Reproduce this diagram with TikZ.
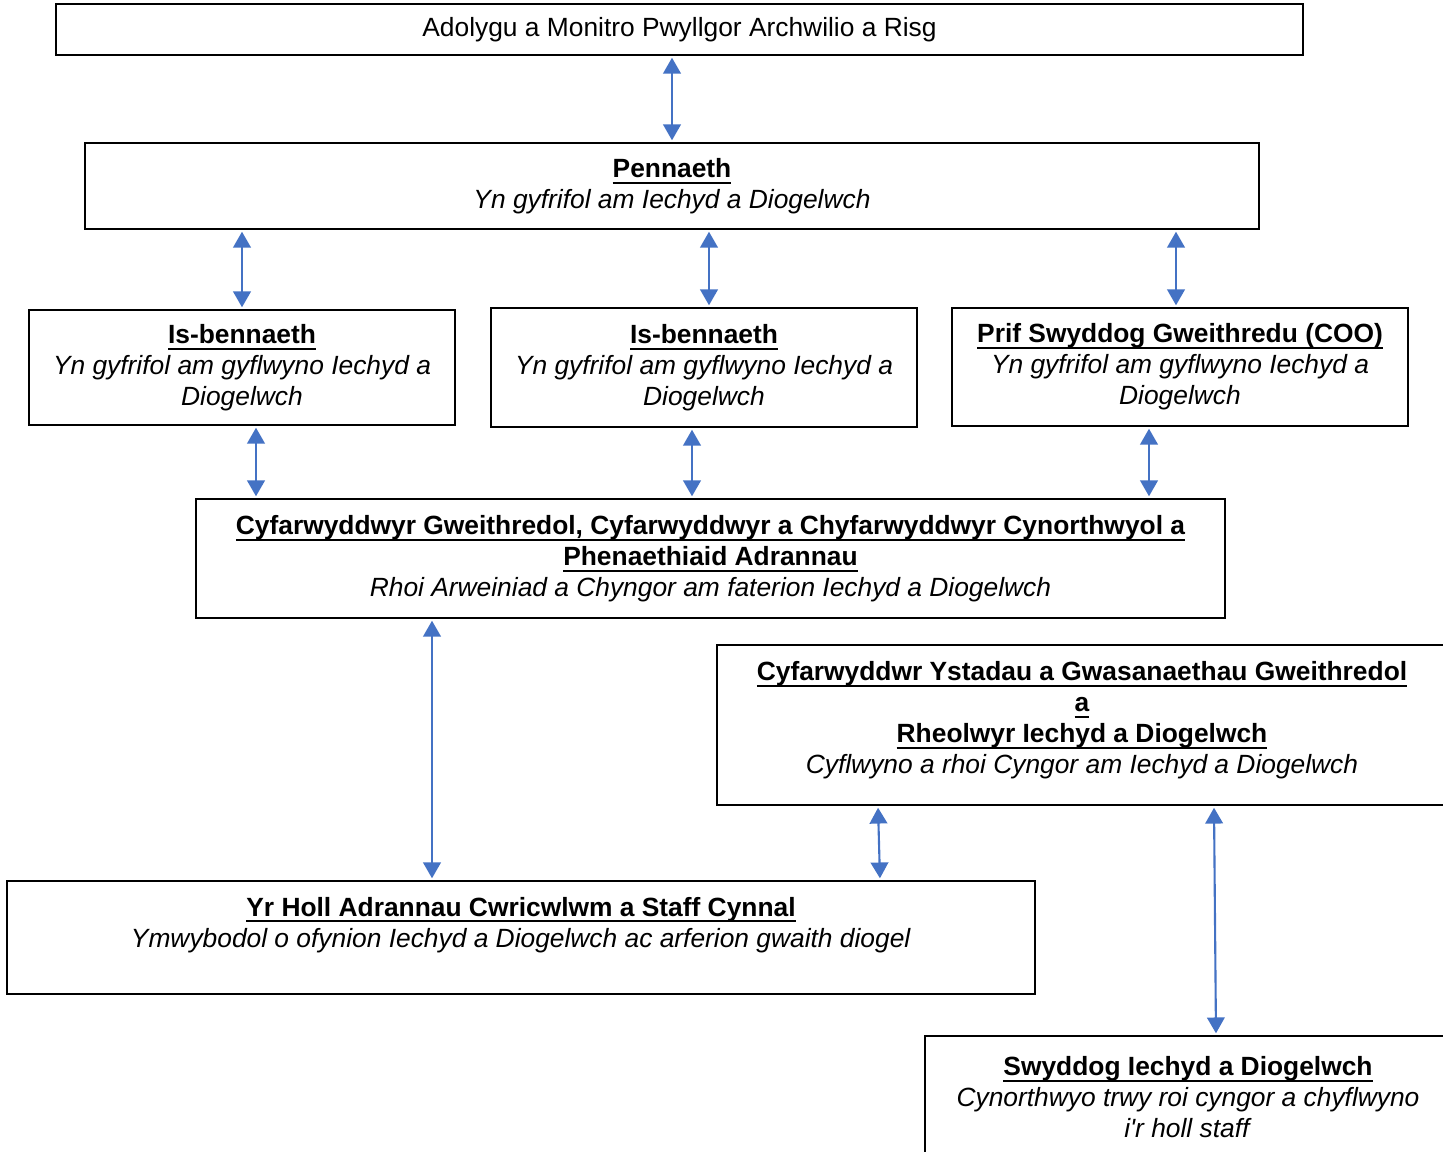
\documentclass[tikz,border=0pt]{standalone}
\usepackage{fontspec}
\setmainfont{Liberation Sans}
\usetikzlibrary{arrows.meta}
\newcommand{\hd}[1]{\textbf{\setbox0=\hbox{#1}\rlap{\rule[-3.6pt]{\wd0}{1.2pt}}\box0}}
\definecolor{arrowblue}{RGB}{68,114,196}
\tikzset{
	boxstyle/.style={rectangle, draw=black, line width=1.1pt, align=center, inner sep=0pt, font=\fontsize{15}{17.6}\selectfont},
	arrowstyle/.style={{Triangle[width=10pt,length=9pt]}-{Triangle[width=10pt,length=9pt]}, draw=arrowblue, line width=1.2pt, shorten <=1pt, shorten >=1pt}
}

\begin{document}
\begin{tikzpicture}

\useasboundingbox (0, 0) rectangle (28.86, -23.02);

\node[boxstyle, minimum width=24.94cm, minimum height=1.02cm] (adolygu) at (13.59, -0.59) {Adolygu a Monitro Pwyllgor Archwilio a Risg};

\node[boxstyle, minimum width=23.48cm, minimum height=1.72cm] (pennaeth) at (13.44, -3.72) {\hd{Pennaeth}\\ \textit{Yn gyfrifol am Iechyd a Diogelwch}};

\node[boxstyle, minimum width=8.52cm, minimum height=2.30cm] (isbennaeth1) at (4.84, -7.35)  {\hd{Is-bennaeth}\\ \textit{Yn gyfrifol am gyflwyno Iechyd a}\\ \textit{Diogelwch}};
\node[boxstyle, minimum width=8.52cm, minimum height=2.38cm] (isbennaeth2) at (14.08, -7.35) {\hd{Is-bennaeth}\\ \textit{Yn gyfrifol am gyflwyno Iechyd a}\\ \textit{Diogelwch}};
\node[boxstyle, minimum width=9.12cm, minimum height=2.36cm] (prifswyddog) at (23.60, -7.34) {\hd{Prif Swyddog Gweithredu (COO)}\\ \textit{Yn gyfrifol am gyflwyno Iechyd a}\\ \textit{Diogelwch}};

\node[boxstyle, minimum width=20.58cm, minimum height=2.38cm] (cyfarwyddwyr) at (14.21, -11.17) {\hd{Cyfarwyddwyr Gweithredol, Cyfarwyddwyr a Chyfarwyddwyr Cynorthwyol a}\\ \hd{Phenaethiaid Adrannau}\\ \textit{Rhoi Arweiniad a Chyngor am faterion Iechyd a Diogelwch}};

\node[boxstyle, minimum width=14.60cm, minimum height=3.20cm] (ystadau) at (21.64, -14.50) {\hd{Cyfarwyddwr Ystadau a Gwasanaethau Gweithredol}\\ \hd{a}\\ \hd{Rheolwyr Iechyd a Diogelwch}\\ \textit{Cyflwyno a rhoi Cyngor am Iechyd a Diogelwch}\\[-9pt] \mbox{}};

\node[boxstyle, minimum width=20.56cm, minimum height=2.26cm] (adrannau) at (10.42, -18.75) {\hd{Yr Holl Adrannau Cwricwlwm a Staff Cynnal}\\ \textit{Ymwybodol o ofynion Iechyd a Diogelwch ac arferion gwaith diogel}\\ \mbox{}};

\node[boxstyle, minimum width=10.52cm, minimum height=2.44cm] (swyddog) at (23.76, -21.94) {\hd{Swyddog Iechyd a Diogelwch}\\ \textit{Cynorthwyo trwy roi cyngor a chyflwyno}\\ \textit{i\textquotesingle r holl staff}};

\draw[arrowstyle] (adolygu.south -| pennaeth.north)--(pennaeth.north);

\draw[arrowstyle] (pennaeth.south -| isbennaeth1.north)--(isbennaeth1.north);
\draw[arrowstyle] ([xshift=0.1cm]pennaeth.south -| isbennaeth2.north)--([xshift=0.1cm]isbennaeth2.north);
\draw[arrowstyle] ([xshift=-0.08cm]pennaeth.south -| prifswyddog.north)--([xshift=-0.08cm]prifswyddog.north);

\draw[arrowstyle] ([xshift=0.28cm]isbennaeth1.south)--([xshift=0.28cm]isbennaeth1.south |- cyfarwyddwyr.north);
\draw[arrowstyle] ([xshift=-0.24cm]isbennaeth2.south)--([xshift=-0.24cm]isbennaeth2.south |- cyfarwyddwyr.north);
\draw[arrowstyle] ([xshift=-0.62cm]prifswyddog.south)--([xshift=-0.62cm]prifswyddog.south |- cyfarwyddwyr.north);

\draw[arrowstyle] ([xshift=-5.57cm]cyfarwyddwyr.south)--([xshift=-5.57cm]cyfarwyddwyr.south |- adrannau.north);
\draw[arrowstyle] ([xshift=-4.08cm]ystadau.south)--([xshift=-4.04cm]ystadau.south |- adrannau.north);
\draw[arrowstyle] ([xshift=2.64cm]ystadau.south)--([xshift=2.68cm]ystadau.south |- swyddog.north);
\end{tikzpicture}
\end{document}
